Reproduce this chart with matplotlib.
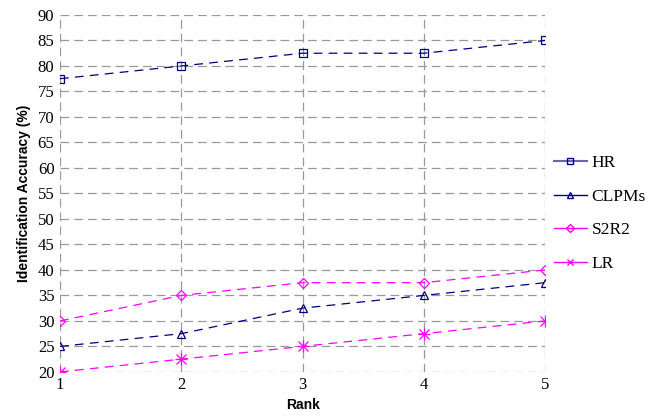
import matplotlib
matplotlib.use("Agg")
import matplotlib.pyplot as plt
from matplotlib.lines import Line2D

# data
rank = [1, 2, 3, 4, 5]
hr = [77.5, 80, 82.5, 82.5, 85]
clpms = [25, 27.5, 32.5, 35, 37.5]
s2r2 = [30, 35, 37.5, 37.5, 40]
lr = [20, 22.5, 25, 27.5, 30]

fig = plt.figure(figsize=(6.56, 4.16), dpi=100)
ax = fig.add_axes([0.0915, 0.106, 0.7395, 0.858])

navy = "#000080"
mag = "#ff00ff"
dash = (0, (7, 5))
ax.plot(rank, hr, color=navy, ls=dash, lw=0.9, marker="s", ms=6, mfc="none", mew=0.9, label="HR")
ax.plot(rank, clpms, color=navy, ls=dash, lw=0.9, marker="^", ms=6, mfc="none", mew=0.9, label="CLPMs")
ax.plot(rank, s2r2, color=mag, ls=dash, lw=0.9, marker="D", ms=5, mfc="none", mew=0.9, label="S2R2")
ax.plot(rank, lr, color=mag, ls=dash, lw=0.9, marker="x", ms=7, mew=0.9, label="LR")
# star-like marker for LR
ax.plot(rank, lr, color=mag, ls="none", marker="+", ms=8, mew=0.9)

ax.set_xlim(1, 5)
ax.set_ylim(20, 90)
ax.set_xticks(rank)
ax.set_yticks(range(20, 91, 5))
ax.grid(True, color="#999999", ls=(0, (7, 4)), lw=0.9)
for s in ax.spines.values():
    s.set_visible(False)
ax.tick_params(length=0, pad=4, labelsize=12)
for lab in ax.get_xticklabels() + ax.get_yticklabels():
    lab.set_fontfamily("Liberation Serif")

ax.set_xlabel("Rank", fontweight="bold", fontsize=10, family="Liberation Sans", labelpad=3)
ax.set_ylabel("Identification Accuracy (%)", fontweight="bold", fontsize=10, family="Liberation Sans", labelpad=5)

handles = [
    Line2D([], [], color="#6666b3", lw=1.5, marker="s", ms=5, mfc="none", mec=navy),
    Line2D([], [], color=navy, lw=1, marker="^", ms=5, mfc="none"),
    Line2D([], [], color=mag, lw=1, marker="D", ms=4, mfc="none"),
    Line2D([], [], color=mag, lw=1, marker="x", ms=5),
]
fig.legend(handles, ["HR", "CLPMs", "S2R2", "LR"], loc="upper left",
           bbox_to_anchor=(0.82, 0.665), frameon=False, handlelength=1.9,
           labelspacing=1.0, handletextpad=0.3,
           prop={"family": "Liberation Serif", "size": 12.5})

fig.savefig("out.png", dpi=100)
